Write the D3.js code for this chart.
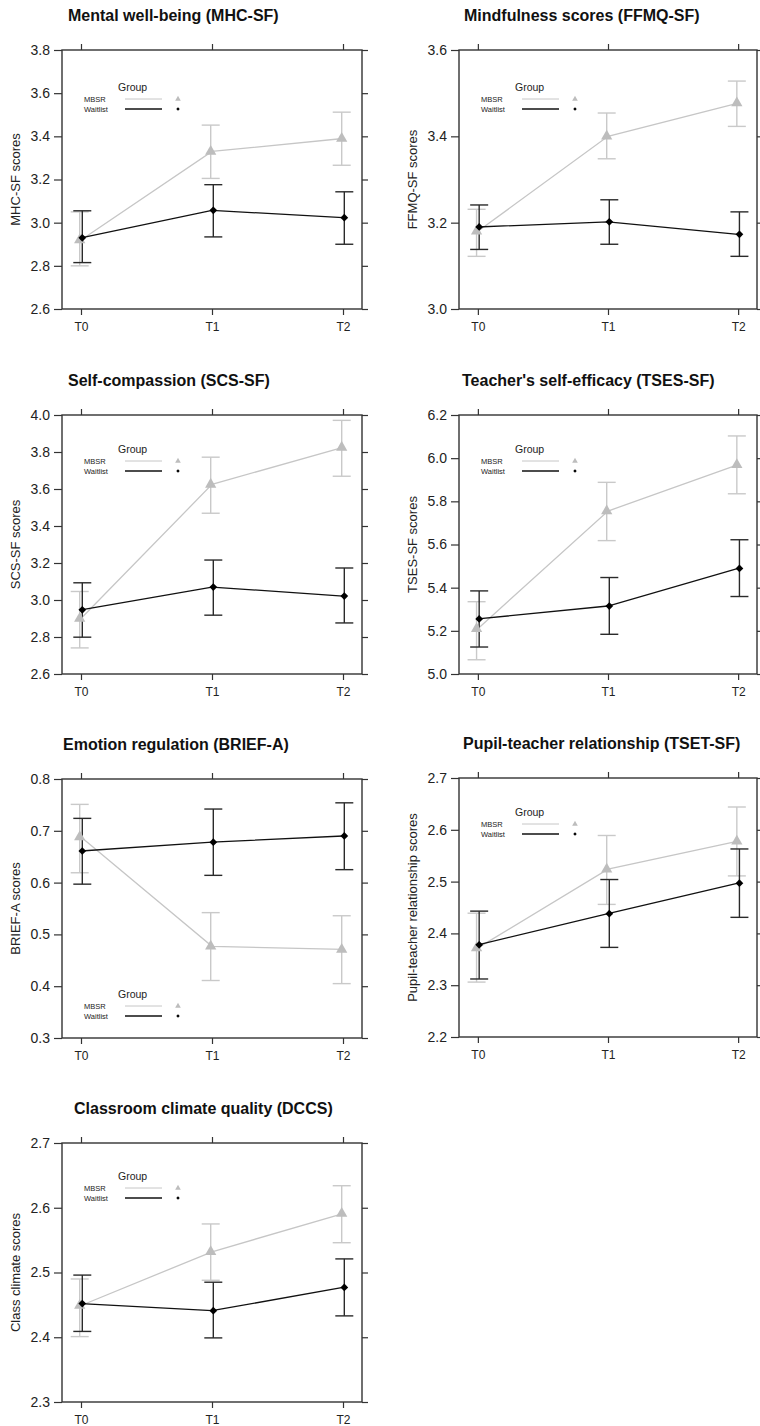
<!DOCTYPE html>
<html>
<head>
<meta charset="utf-8">
<script src="https://cdn.jsdelivr.net/npm/d3@7"></script>
<style>
  body { margin: 0; background: #fff; }
  svg text { font-family: "Liberation Sans", Arial, sans-serif; }
</style>
</head>
<body>
<div id="chart"></div>
<script>
// Data
const timepoints = ["T0", "T1", "T2"];
const groups = ["MBSR", "Waitlist"];

const titles = [
  "Mental well-being (MHC-SF)",
  "Mindfulness scores (FFMQ-SF)",
  "Self-compassion (SCS-SF)",
  "Teacher's self-efficacy (TSES-SF)",
  "Emotion regulation (BRIEF-A)",
  "Pupil-teacher relationship (TSET-SF)",
  "Classroom climate quality (DCCS)"
];
const yLabels = [
  "MHC-SF scores",
  "FFMQ-SF scores",
  "SCS-SF scores",
  "TSES-SF scores",
  "BRIEF-A scores",
  "Pupil-teacher relationship scores",
  "Class climate scores"
];
const yDomains = [[2.6, 3.8], [3.0, 3.6], [2.6, 4.0], [5.0, 6.2], [0.3, 0.8], [2.2, 2.7], [2.3, 2.7]];
const yTicks = [
  [2.6, 2.8, 3.0, 3.2, 3.4, 3.6, 3.8],
  [3.0, 3.2, 3.4, 3.6],
  [2.6, 2.8, 3.0, 3.2, 3.4, 3.6, 3.8, 4.0],
  [5.0, 5.2, 5.4, 5.6, 5.8, 6.0, 6.2],
  [0.3, 0.4, 0.5, 0.6, 0.7, 0.8],
  [2.2, 2.3, 2.4, 2.5, 2.6, 2.7],
  [2.3, 2.4, 2.5, 2.6, 2.7]
];

// MBSR group: means and error bar ends
const mbsrMean = [[2.92, 3.33, 3.39], [3.18, 3.40, 3.477], [2.90, 3.625, 3.825], [5.21, 5.755, 5.97], [0.688, 0.477, 0.471], [2.372, 2.524, 2.578], [2.449, 2.532, 2.591]];
const mbsrLow  = [[2.80, 3.205, 3.266], [3.122, 3.348, 3.423], [2.741, 3.469, 3.669], [5.066, 5.618, 5.835], [0.619, 0.411, 0.405], [2.306, 2.456, 2.511], [2.401, 2.488, 2.546]];
const mbsrHigh = [[3.05, 3.452, 3.512], [3.231, 3.454, 3.528], [3.046, 3.772, 3.971], [5.335, 5.888, 6.103], [0.751, 0.542, 0.536], [2.439, 2.589, 2.644], [2.490, 2.575, 2.634]];

// Waitlist group
const waitMean = [[2.93, 3.057, 3.023], [3.19, 3.202, 3.173], [2.947, 3.07, 3.021], [5.255, 5.315, 5.489], [0.661, 0.678, 0.690], [2.378, 2.438, 2.497], [2.452, 2.441, 2.477]];
const waitLow  = [[2.815, 2.934, 2.90], [3.138, 3.15, 3.122], [2.799, 2.918, 2.876], [5.125, 5.184, 5.359], [0.597, 0.614, 0.625], [2.312, 2.373, 2.431], [2.409, 2.399, 2.433]];
const waitHigh = [[3.055, 3.176, 3.143], [3.241, 3.253, 3.225], [3.093, 3.216, 3.173], [5.385, 5.447, 5.622], [0.724, 0.742, 0.754], [2.443, 2.504, 2.563], [2.496, 2.485, 2.521]];

// Layout
const panelLeft = [62, 459, 62, 459, 62, 459, 62];
const panelTop = [50, 50, 415, 415, 779, 778, 1143];
const panelWidth = [300, 298, 300, 298, 300, 298, 300];
const panelHeight = 259;
const titleOffset = [6, 5, 6, 3, 1, 4, 12];
const legendOffset = [37, 37, 34, 34, 215, 34, 33];

const mbsrColor = "#c6c6c6";
const waitColor = "#111";
const frameColor = "#333";

const svg = d3.select("#chart")
  .append("svg")
    .attr("width", 760)
    .attr("height", 1426);

svg.append("rect").attr("width", 760).attr("height", 1426).attr("fill", "#fff");

titles.forEach((title, i) => {
  const W = panelWidth[i], H = panelHeight;
  const g = svg.append("g")
      .attr("transform", `translate(${panelLeft[i]},${panelTop[i]})`);

  const x = d3.scalePoint()
      .domain(timepoints)
      .range([0, W])
      .padding(0.145);
  const y = d3.scaleLinear()
      .domain(yDomains[i])
      .range([H, 0]);

  // title
  g.append("text")
      .attr("x", titleOffset[i])
      .attr("y", -29)
      .attr("font-size", 16)
      .attr("font-weight", "bold")
      .attr("fill", "#111")
      .text(title);

  // y label
  g.append("text")
      .attr("transform", `translate(-47,${H / 2}) rotate(-90)`)
      .attr("text-anchor", "middle")
      .attr("dy", "0.35em")
      .attr("font-size", 13)
      .attr("fill", "#222")
      .text(yLabels[i]);

  // axes
  const styleAxis = sel => {
    sel.select(".domain").remove();
    sel.selectAll(".tick line").attr("stroke", frameColor).attr("stroke-width", 1.2);
    sel.selectAll(".tick text").attr("fill", "#222").attr("font-family", null);
  };

  g.append("g")
      .call(d3.axisLeft(y).tickValues(yTicks[i]).tickSize(8).tickPadding(4).tickFormat(d3.format(".1f")))
      .call(styleAxis)
      .selectAll("text").attr("font-size", 14);

  g.append("g")
      .attr("transform", `translate(${W},0)`)
      .call(d3.axisRight(y).tickValues(yTicks[i]).tickSize(6).tickFormat(""))
      .call(styleAxis);

  g.append("g")
      .call(d3.axisTop(x).tickSize(6).tickFormat(""))
      .call(styleAxis);

  g.append("g")
      .attr("transform", `translate(0,${H})`)
      .call(d3.axisBottom(x).tickSize(6).tickPadding(7.5))
      .call(styleAxis)
      .selectAll("text").attr("font-size", 12);

  // frame
  g.append("rect")
      .attr("width", W)
      .attr("height", H)
      .attr("fill", "none")
      .attr("stroke", frameColor)
      .attr("stroke-width", 1.4);

  // series
  const series = [
    {name: "MBSR", mean: mbsrMean[i], lo: mbsrLow[i], hi: mbsrHigh[i], color: mbsrColor, barColor: "#c9c9c9", dx: -1.3},
    {name: "Waitlist", mean: waitMean[i], lo: waitLow[i], hi: waitHigh[i], color: waitColor, barColor: "#2a2a2a", dx: 1.3}
  ];

  const line = d3.line()
      .x((d, j) => x(timepoints[j]))
      .y(d => y(d));

  series.forEach(s => {
    const pts = timepoints.map((t, j) => ({t: t, m: s.mean[j], lo: s.lo[j], hi: s.hi[j]}));

    // error bars
    const eb = g.append("g").selectAll("g")
      .data(pts)
      .enter().append("g");
    eb.append("line")
        .attr("x1", d => x(d.t) + s.dx).attr("x2", d => x(d.t) + s.dx)
        .attr("y1", d => y(d.lo)).attr("y2", d => y(d.hi))
        .attr("stroke", s.barColor).attr("stroke-width", 1.4);
    eb.append("line")
        .attr("x1", d => x(d.t) + s.dx - 9).attr("x2", d => x(d.t) + s.dx + 9)
        .attr("y1", d => y(d.lo)).attr("y2", d => y(d.lo))
        .attr("stroke", s.barColor).attr("stroke-width", 1.4);
    eb.append("line")
        .attr("x1", d => x(d.t) + s.dx - 9).attr("x2", d => x(d.t) + s.dx + 9)
        .attr("y1", d => y(d.hi)).attr("y2", d => y(d.hi))
        .attr("stroke", s.barColor).attr("stroke-width", 1.4);

    g.append("path")
        .datum(s.mean)
        .attr("fill", "none")
        .attr("stroke", s.color)
        .attr("stroke-width", 1.3)
        .attr("d", line);
  });

  // markers
  g.append("g").selectAll("path")
    .data(mbsrMean[i])
    .enter().append("path")
      .attr("transform", (d, j) => `translate(${x(timepoints[j]) - 1.3},${y(d)})`)
      .attr("d", d3.symbol().type(d3.symbolTriangle).size(55))
      .attr("fill", "#bdbdbd");

  g.append("g").selectAll("path")
    .data(waitMean[i])
    .enter().append("path")
      .attr("transform", (d, j) => `translate(${x(timepoints[j]) + 1.3},${y(d)}) rotate(45)`)
      .attr("d", d3.symbol().type(d3.symbolSquare).size(30))
      .attr("fill", "#000");

  // legend
  const lg = g.append("g").attr("transform", `translate(0,${legendOffset[i]})`);
  lg.append("text")
      .attr("x", 56).attr("y", 4)
      .attr("font-size", 10.5)
      .attr("fill", "#222")
      .text("Group");
  groups.forEach((name, k) => {
    const ly = 12 + k * 10;
    lg.append("text")
        .attr("x", 22).attr("y", ly + 3)
        .attr("font-size", 7.5)
        .attr("fill", "#222")
        .text(name);
    lg.append("line")
        .attr("x1", 63).attr("x2", 100)
        .attr("y1", ly).attr("y2", ly)
        .attr("stroke", k === 0 ? mbsrColor : waitColor)
        .attr("stroke-width", k === 0 ? 1 : 1.3);
    lg.append("path")
        .attr("transform", k === 0 ? `translate(116,${ly})` : `translate(116,${ly}) rotate(45)`)
        .attr("d", d3.symbol().type(k === 0 ? d3.symbolTriangle : d3.symbolSquare).size(k === 0 ? 14 : 6))
        .attr("fill", k === 0 ? "#bdbdbd" : "#000");
  });
});
</script>
</body>
</html>
